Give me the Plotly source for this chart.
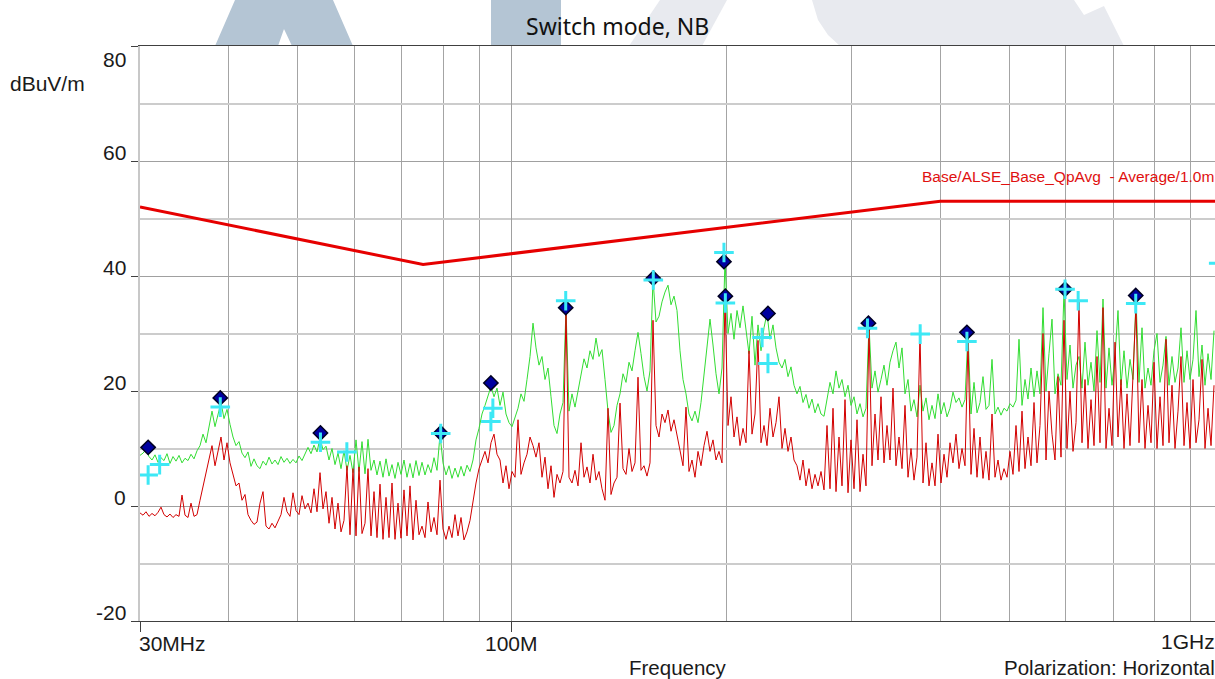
import numpy as np
import plotly.graph_objects as go

# ---------------- data ----------------
# sweep grid of the receiver (log sweep)
sweep_start_mhz = 30.0
points_per_decade = 237.13

# peak (green) trace, dBuV/m
peak_level = [
    8.8, 9.2, 9.8, 8.6, 8.0, 8.9, 7.6, 8.4, 7.9, 9.1,
    7.4, 8.6, 7.8, 8.8, 7.5, 8.3, 7.9, 9.0, 8.2, 9.6,
    10.5, 12.5, 11.0, 14.0, 16.5, 13.8, 16.0, 18.0, 15.2, 16.8,
    14.2, 12.0, 10.5, 11.2, 9.2, 8.4, 9.4, 6.9, 8.2, 7.0,
    6.5, 7.8, 7.1, 8.5, 7.3, 8.0, 7.2, 8.6, 7.6, 8.3,
    7.4, 8.1, 7.5, 8.7, 7.9, 9.0, 10.2, 9.1, 10.6, 9.4,
    11.8, 9.8, 10.4, 8.0, 10.0, 7.2, 9.2, 6.5, 9.6, 6.2,
    8.8, 5.8, 11.5, 6.0, 11.2, 5.6, 11.6, 6.2, 8.0, 5.4,
    7.8, 5.0, 8.2, 5.2, 7.2, 4.8, 7.6, 5.5, 8.0, 5.0,
    7.4, 4.9, 7.9, 5.3, 7.6, 5.4, 7.2, 5.8, 8.4, 6.2,
    12.4, 7.5, 5.4, 7.0, 4.8, 6.6, 5.0, 6.9, 5.2, 7.1,
    6.0, 8.0, 11.5, 13.5, 16.0, 17.5, 19.0, 20.8, 19.0, 20.5,
    17.5, 19.8, 16.0, 14.5, 13.8, 15.5, 17.0, 19.5, 18.2, 22.0,
    26.0, 31.8, 27.5, 24.5, 26.0, 22.0, 24.0, 19.0, 14.0, 12.6,
    16.0, 18.0, 34.5, 16.5, 19.5, 17.2, 19.8, 22.5, 25.6, 24.0,
    27.0, 25.5, 29.2, 26.0, 27.2, 22.0, 16.5, 12.8, 14.0, 17.5,
    19.5, 23.0, 21.5, 25.0, 23.5, 27.0, 30.2, 26.5, 22.5, 20.0,
    23.5, 39.5, 32.0, 33.0, 35.5, 37.2, 38.4, 35.0, 36.5, 34.0,
    27.0, 22.0, 19.5, 16.0, 14.8, 16.5, 14.5, 18.0, 22.5, 28.0,
    32.5, 28.0, 23.0, 19.5, 24.0, 43.0, 30.0, 33.5, 29.0, 34.0,
    31.0, 34.8, 30.5, 26.5, 33.0, 24.5, 31.5, 27.0, 31.0, 33.5,
    29.0, 31.5, 27.5, 25.0, 24.0, 25.5, 22.5, 24.2, 21.0, 19.5,
    20.8, 18.0, 19.4, 17.0, 18.6, 16.2, 17.8, 16.0, 15.6, 18.5,
    21.5, 19.5, 23.5, 20.5, 22.0, 19.0, 21.0, 17.5, 19.0, 16.0,
    17.8, 15.5, 17.0, 31.5, 20.5, 23.5, 19.8, 22.0, 24.5, 21.0,
    25.0, 27.0, 28.5, 24.0, 27.5, 19.5, 22.0, 16.5, 18.5, 15.5,
    21.0, 16.5, 18.8, 15.0, 17.5, 15.2, 19.5, 16.0, 18.0, 15.5,
    17.0, 19.8, 18.0, 18.8, 17.2, 18.5, 30.0, 16.0, 21.5, 16.2,
    18.0, 22.5, 16.8, 17.5, 25.5, 16.0, 17.2, 15.8, 17.0, 16.5,
    17.8, 17.2, 18.4, 29.0, 17.5, 22.0, 18.6, 24.0, 19.0, 23.5,
    19.5, 34.5, 20.0, 26.5, 32.5, 19.5, 23.0, 21.0, 37.5, 22.0,
    28.0, 20.5, 24.5, 26.0, 20.5, 28.5, 21.0, 25.0, 20.0, 30.5,
    21.5, 36.0, 20.5, 27.5, 21.0, 26.0, 34.0, 21.0, 27.0, 20.5,
    25.5, 22.0, 36.0, 21.5, 31.0, 20.5, 24.0, 21.0, 27.0, 30.0,
    21.5, 24.5, 29.5, 21.0, 26.0, 21.5, 24.0, 31.0, 21.5, 27.0,
    22.0, 25.5, 34.0, 22.5, 28.0, 21.0, 26.5, 22.0, 30.5,
]

# average (red) trace, dBuV/m
average_level = [
    -1.2, -1.6, -1.0, -1.8, -1.3, -1.7, -1.1, -0.2, -1.5, -1.9,
    -1.4, -2.0, -1.5, -1.8, 1.9, -1.6, -2.0, 0.5, -1.8, -1.5,
    1.0, 3.5, 5.5, 8.0, 10.5, 7.0, 9.5, 12.0, 8.0, 11.0,
    7.5, 5.5, 3.5, 4.0, 1.0, 2.0, -1.5, -2.5, -3.2, -2.8,
    0.5, 2.5, -3.5, -4.0, -3.0, -3.8, -2.6, -1.5, 1.5, -1.0,
    -1.8, 2.3, -0.8, -1.5, 1.8, -0.5, 0.5, -1.2, 3.0, -1.0,
    5.8, -0.5, 2.5, -3.0, 1.5, -4.0, 0.5, -4.5, -2.5, 7.0,
    -5.0, 6.5, -5.2, 6.8, -4.8, -3.0, 6.5, -5.2, 2.5, -5.5,
    3.8, -5.8, 1.5, -5.5, 4.0, -5.8, 0.5, -5.6, 2.8, -5.2,
    3.5, -5.9, 1.0, -5.0, -3.5, -5.5, 0.7, -4.5, -2.0, -5.0,
    4.5, -4.0, -5.8, -3.5, -5.5, -1.5, -5.2, -2.0, -5.9, -4.5,
    -2.5, 1.0, 4.0, 6.5, 8.0, 9.5, 7.5, 11.0, 12.5, 9.0,
    8.0, 4.0, 7.0, 3.0, 6.0, 5.0, 15.0, 5.5, 7.5, 9.0,
    12.0, 10.5, 8.5, 11.0, 5.0, 8.5, 3.0, 7.0, 1.5, 5.5,
    4.0, 6.0, 34.0, 5.0, 4.0, 6.2, 3.5, 11.0, 5.0, 6.8,
    4.0, 9.0, 4.5, 6.0, 3.0, 1.0, 17.0, 2.0, 4.0, 5.0,
    17.9, 6.5, 5.5, 10.0, 6.0, 7.5, 22.4, 6.2, 7.0, 5.2,
    7.5, 32.3, 14.0, 12.0, 16.0, 14.5, 16.7, 13.0, 15.0, 12.5,
    10.0, 7.0, 17.2, 6.0, 8.0, 5.0, 9.5, 7.0, 10.5, 13.0,
    9.5, 11.5, 8.0, 9.5, 7.5, 36.3, 14.0, 19.0, 12.0, 15.5,
    10.5, 13.5, 11.0, 27.0, 12.5, 16.0, 28.8, 11.0, 14.0, 10.5,
    17.0, 12.0, 14.5, 19.0, 10.0, 13.5, 9.5, 12.0, 8.0, 7.0,
    4.5, 8.0, 3.5, 6.5, 3.0, 5.5, 3.5, 6.0, 2.8, 14.0,
    3.0, 17.0, 2.5, 12.0, 3.5, 18.5, 2.3, 11.5, 3.0, 15.0,
    2.5, 9.0, 3.5, 31.0, 7.0, 16.0, 8.0, 19.0, 7.5, 14.0,
    8.0, 20.5, 7.0, 12.0, 6.5, 17.5, 5.0, 10.0, 4.5, 8.5,
    29.9, 4.0, 11.0, 3.5, 7.5, 3.5, 12.5, 4.0, 9.0, 5.0,
    11.0, 7.5, 12.5, 6.5, 10.0, 7.0, 28.8, 5.5, 13.5, 5.0,
    12.0, 4.8, 9.5, 4.5, 16.0, 5.0, 8.0, 4.5, 6.5, 5.0,
    9.5, 5.5, 14.0, 6.0, 16.5, 6.5, 12.0, 7.0, 18.0, 7.5,
    14.0, 30.0, 8.0, 20.0, 12.5, 8.0, 22.5, 8.5, 32.3, 10.0,
    20.0, 9.5, 14.5, 35.8, 11.0, 22.0, 10.0, 18.5, 10.5, 26.0,
    11.0, 34.5, 10.0, 17.0, 10.5, 28.5, 12.0, 22.0, 10.0, 19.5,
    10.5, 24.0, 35.0, 11.0, 22.0, 10.0, 17.5, 11.0, 25.0, 10.0,
    19.0, 10.5, 29.0, 11.0, 21.0, 10.0, 16.5, 26.0, 10.5, 18.0,
    10.0, 22.0, 11.0, 15.0, 25.5, 10.0, 17.0, 10.5, 21.0,
]

# limit line
limit_freq = [30, 75, 400, 1000]
limit_level = [52, 42, 53, 53]

# final results: quasi-peak (diamonds)
qp_freq = [30.8, 38.9, 53.8, 79.4, 93.4, 119.0, 158.0, 198.6, 199.5, 229.0, 317.0, 436.0, 599.0, 753.0]
qp_level = [10.2, 18.8, 12.7, 12.7, 21.4, 34.5, 39.6, 42.5, 36.5, 33.5, 31.8, 30.2, 37.7, 36.6]

# final results: average (crosses)
avf_freq = [30.8, 31.97, 38.9, 53.8, 58.6, 79.4, 94.0, 93.4, 119.0, 158.0, 198.6, 199.5,
            224.7, 229.0, 316.0, 374.8, 436.0, 599.0, 625.0, 753.0, 985.0]
avf_level = [5.4, 7.2, 17.2, 11.1, 9.4, 12.6, 17.0, 14.7, 35.7, 39.3, 44.1, 35.3,
             29.3, 24.8, 30.9, 29.9, 28.6, 37.7, 35.7, 35.2, 42.2]

y_ticks = [80, 60, 40, 20, 0, -20]
y_minor = [70, 50, 30, 10, -10]
x_grid = [40, 50, 60, 70, 80, 90, 200, 300, 400, 500, 600, 700, 800, 900]
x_major = [30, 100]
x_label_text = ["30MHz", "100M"]

# ---------------- figure ----------------
W, H = 1215, 679
ML, MR, MT, MB = 140, 0, 46, 58
PW, PH = W - ML - MR, H - MT - MB
x_lo = np.log10(30.0)
x_hi = x_lo + PW / 711.4

freq = sweep_start_mhz * 10 ** (np.arange(len(peak_level)) / points_per_decade)

fig = go.Figure()
fig.add_trace(go.Scatter(x=freq, y=peak_level, mode="lines",
                         line=dict(color="#33dd33", width=1), hoverinfo="skip"))
fig.add_trace(go.Scatter(x=freq[:len(average_level)], y=average_level, mode="lines",
                         line=dict(color="#d20000", width=1), hoverinfo="skip"))
fig.add_trace(go.Scatter(x=limit_freq, y=limit_level, mode="lines",
                         line=dict(color="#e60000", width=3)))
fig.add_trace(go.Scatter(x=qp_freq, y=qp_level, mode="markers",
                         marker=dict(symbol="diamond", size=11, color="#0000a0",
                                     line=dict(color="#000022", width=1.5))))
fig.add_trace(go.Scatter(x=avf_freq, y=avf_level, mode="markers",
                         marker=dict(symbol="cross-thin", size=14, color="#3de8f5",
                                     line=dict(color="#3de8f5", width=3))))


def px2paper(px, py):
    return (px - ML) / PW, (H - MB - py) / PH


def poly(points):
    pts = [px2paper(x, y) for x, y in points]
    return "M " + " L ".join(f"{a:.5f},{b:.5f}" for a, b in pts) + " Z"


blue = "#b4c5d4"
gray = "#e8eaef"
watermark = [
    ([(215, 46), (235, 0), (333, 0), (353, 46), (292, 46), (284, 29), (278, 46)], blue),
    ([(491, 0), (561, 0), (561, 46), (491, 46)], blue),
    ([(629, 46), (660, 0), (727, 0), (702, 46)], gray),
    ([(812, 0), (1074, 0), (1084, 15), (1104, 6), (1124, 46), (840, 46), (828, 35), (818, 20)], gray),
]
shapes = [dict(type="path", path=poly(p), xref="paper", yref="paper",
               fillcolor=c, line=dict(width=0), layer="below") for p, c in watermark]

font = "Liberation Sans, Arial, sans-serif"
ann = []
# y tick labels
for v in y_ticks:
    if v == y_ticks[0]:
        ann.append(dict(x=0, xref="paper", y=v, yref="y", text=str(v), showarrow=False,
                        xanchor="right", yanchor="top", xshift=-12, yshift=0,
                        font=dict(family=font, size=21, color="#1a1a1a")))
    else:
        ann.append(dict(x=0, xref="paper", y=v, yref="y", text=str(v), showarrow=False,
                        xanchor="right", yanchor="bottom", xshift=-12, yshift=-5,
                        font=dict(family=font, size=21, color="#1a1a1a")))
# x tick labels
y_xlab = (H - MB - 643) / PH
for f, t in zip(x_major, x_label_text):
    ann.append(dict(x=np.log10(f), xref="x", y=y_xlab, yref="paper", text=t, showarrow=False,
                    xanchor="left" if f == x_major[0] else "center", yanchor="middle",
                    xshift=-2 if f == x_major[0] else 0, borderpad=0,
                    font=dict(family=font, size=21, color="#1a1a1a")))
ann.append(dict(x=1, xref="paper", y=(H - MB - 641) / PH, yref="paper", text="1GHz", showarrow=False,
                xanchor="right", yanchor="middle", xshift=1, borderpad=0,
                font=dict(family=font, size=21, color="#1a1a1a")))
y_bot = (H - MB - 667) / PH
ann.append(dict(x=(678 - ML) / PW, xref="paper", y=y_bot, yref="paper", text="Frequency",
                showarrow=False, xanchor="center", yanchor="middle", borderpad=0,
                font=dict(family=font, size=20.5, color="#1a1a1a")))
ann.append(dict(x=1, xref="paper", y=y_bot, yref="paper", text="Polarization: Horizontal",
                showarrow=False, xanchor="right", yanchor="middle", xshift=1, borderpad=0,
                font=dict(family=font, size=20.5, color="#1a1a1a")))
ann.append(dict(x=(8 - ML) / PW, xref="paper", y=(H - MB - 83) / PH, yref="paper", text="dBuV/m",
                showarrow=False, xanchor="left", yanchor="middle",
                font=dict(family=font, size=21, color="#1a1a1a")))
ann.append(dict(x=(617 - ML) / PW, xref="paper", y=(H - MB - 26) / PH, yref="paper",
                text="Switch mode, NB", showarrow=False, xanchor="center", yanchor="middle",
                font=dict(family="Noto Sans, sans-serif", size=23, color="#111111")))
ann.append(dict(x=1, xref="paper", y=(H - MB - 176) / PH, yref="paper",
                text="Base/ALSE_Base_QpAvg  - Average/1.0m", showarrow=False,
                xanchor="right", yanchor="middle", xshift=1,
                font=dict(family=font, size=15.5, color="#e01010")))

fig.update_layout(
    width=W, height=H,
    margin=dict(l=ML, r=MR, t=MT, b=MB, pad=0),
    paper_bgcolor="white", plot_bgcolor="white",
    showlegend=False,
    shapes=shapes,
    annotations=ann,
    xaxis=dict(type="log", range=[x_lo, x_hi], tickvals=x_major, showticklabels=False,
               ticks="outside", ticklen=10, tickcolor="#404040",
               showgrid=True, gridcolor="#a0a0a0", gridwidth=1,
               minor=dict(tickvals=x_grid, showgrid=True, gridcolor="#a4a4a4", gridwidth=1, ticks=""),
               showline=True, mirror=True, linecolor="#404040", linewidth=1, zeroline=False),
    yaxis=dict(range=[-20, 80], tickvals=y_ticks, showticklabels=False,
               ticks="outside", ticklen=7, tickcolor="#404040",
               showgrid=True, gridcolor="#a0a0a0", gridwidth=1,
               minor=dict(tickvals=y_minor, showgrid=True, gridcolor="#cccccc", gridwidth=2, ticks=""),
               showline=True, linecolor="#c8c8c8", linewidth=2, zeroline=False),
)

fig.write_html("out.html", config={"displayModeBar": False},
               post_script="document.body.style.margin='0';document.body.style.overflow='hidden';")
